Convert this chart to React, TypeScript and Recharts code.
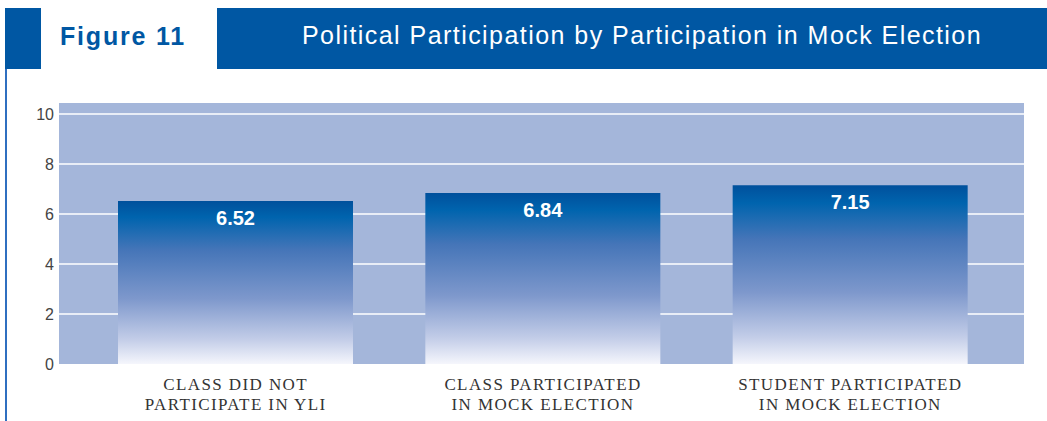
import { BarChart, Bar, XAxis, YAxis, CartesianGrid, LabelList } from 'recharts';

const categories = ['CLASS DID NOT\nPARTICIPATE IN YLI', 'CLASS PARTICIPATED\nIN MOCK ELECTION', 'STUDENT PARTICIPATED\nIN MOCK ELECTION'];
const scores = [6.52, 6.84, 7.15];
const yTicks = [0, 2, 4, 6, 8, 10];

const data = categories.map((name, i) => ({ name, score: scores[i] }));

const BLUE = '#0057a3';

const CategoryTick = ({ x, y, payload }: any) => {
  const lines = String(payload.value).split('\n');
  return (
    <text
      x={x}
      y={y}
      textAnchor="middle"
      fill="#333"
      fontSize={17}
      fontFamily="'Liberation Serif', serif"
      style={{ letterSpacing: 1.4 }}
    >
      {lines.map((l, i) => (
        <tspan key={i} x={x} dy={i === 0 ? 18 : 20}>
          {l}
        </tspan>
      ))}
    </text>
  );
};

const App = () => {
  return (
    <div style={{ position: 'absolute', left: 0, top: 0, width: 1047, height: 421, background: '#fff', fontFamily: "'Liberation Sans', Arial, sans-serif" }}>
      {/* header blocks */}
      <div style={{ position: 'absolute', left: 5, top: 8, width: 36, height: 61, background: BLUE }} />
      <div style={{ position: 'absolute', left: 60, top: 18, height: 36, lineHeight: '36px', fontSize: 25, fontWeight: 'bold', color: BLUE, letterSpacing: 1.8 }}>
        Figure 11
      </div>
      <div
        style={{
          position: 'absolute', left: 217, top: 8, width: 830, height: 61, background: BLUE,
          color: '#fff', fontSize: 25, letterSpacing: 1.45, lineHeight: '55px', textAlign: 'center', paddingLeft: 20, boxSizing: 'border-box',
        }}
      >
        Political Participation by Participation in Mock Election
      </div>
      <div style={{ position: 'absolute', left: 5, top: 69, width: 2, height: 352, background: '#2f6fc0' }} />

      <div style={{ position: 'absolute', left: 0, top: 0 }}>
        <BarChart width={1047} height={421} data={data} margin={{ top: 103, right: 23, bottom: 7, left: 9 }} barCategoryGap={0}>
          <defs>
            <linearGradient id="barFill" x1="0" y1="0" x2="0" y2="1">
              <stop offset="0%" stopColor="#00509c" />
              <stop offset="10%" stopColor="#0064ae" />
              <stop offset="30%" stopColor="#4575b8" />
              <stop offset="60%" stopColor="#7e98cc" />
              <stop offset="85%" stopColor="#c3cde8" />
              <stop offset="100%" stopColor="#f5f6fc" />
            </linearGradient>
          </defs>
          <CartesianGrid
            fill="#a4b6da"
            fillOpacity={1}
            stroke="#ffffff"
            strokeWidth={1.5}
            vertical={false}
            horizontalValues={[2, 4, 6, 8, 10]}
          />
          <XAxis
            dataKey="name"
            height={50}
            axisLine={false}
            tickLine={false}
            interval={0}
            padding={{ left: 23, right: 20 }}
            tick={<CategoryTick />}
          />
          <YAxis
            width={50}
            domain={[0, 10.44]}
            ticks={yTicks}
            axisLine={false}
            tickLine={false}
            tickMargin={1}
            tick={{ fill: '#444', fontSize: 16, dx: 2, fontFamily: "'Liberation Sans', Arial, sans-serif" }}
          />
          <Bar dataKey="score" fill="url(#barFill)" barSize={235} isAnimationActive={false}>
            <LabelList
              dataKey="score"
              position="insideTop"
              offset={10}
              fill="#fff"
              fontSize={20}
              fontWeight="bold"
              fontFamily="'Liberation Sans', Arial, sans-serif"
              formatter={(v: any) => Number(v).toFixed(2)}
            />
          </Bar>
        </BarChart>
      </div>
    </div>
  );
};

export default App;
